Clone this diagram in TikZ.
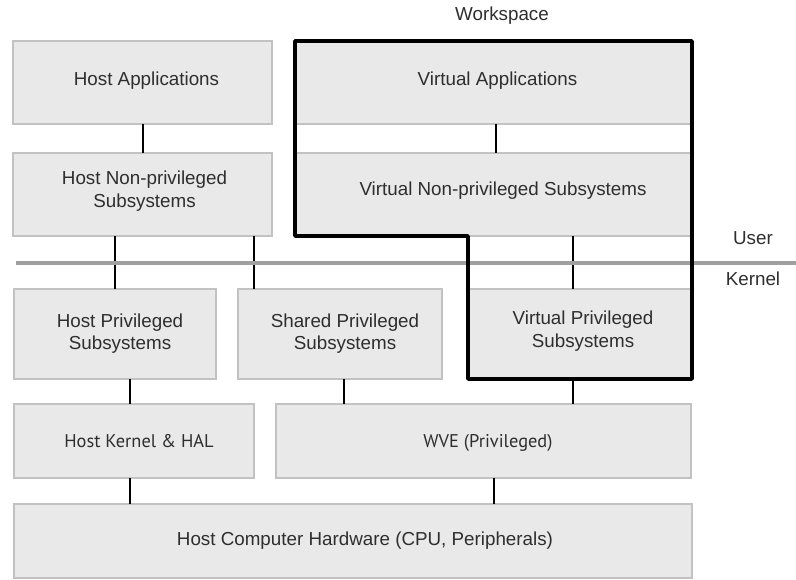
\documentclass[tikz,border=0pt]{standalone}
\usepackage{fontspec}
\setmainfont{Liberation Sans}
\newfontfamily\myr{PT Sans}
\definecolor{boxfill}{HTML}{E9E9E9}
\definecolor{boxline}{HTML}{C2C2C2}
\definecolor{txt}{HTML}{2E2E2E}
\definecolor{sepline}{HTML}{A0A0A0}
\tikzset{
  box/.style={draw=boxline, fill=boxfill, line width=1.5pt, inner sep=0pt, outer sep=0pt},
  lbl/.style={text=txt, inner sep=0pt, anchor=base, align=center, font=\fontsize{18.8}{23}\selectfont},
  lblm/.style={lbl, font=\myr\fontsize{18.4}{23}\selectfont},
  conn/.style={draw=black, line width=2pt},
  ws/.style={draw=black, line width=3.5pt, line join=round},
}
\begin{document}
\begin{tikzpicture}[x=1pt,y=-1pt]
\useasboundingbox (0,0) rectangle (796,580);
% boxes
\node[box, minimum width=259pt, minimum height=83pt] (ha) at (142.5,82.5) {};
\node[box, minimum width=259pt, minimum height=83pt] (hn) at (142.5,194.5) {};
\node[box, minimum width=397pt, minimum height=83pt] (va) at (493.5,82.5) {};
\node[box, minimum width=397pt, minimum height=83pt] (vn) at (493.5,194.5) {};
\node[box, minimum width=202pt, minimum height=90pt] (hp) at (115,334) {};
\node[box, minimum width=204pt, minimum height=90pt] (sp) at (340,334) {};
\node[box, minimum width=224pt, minimum height=90pt] (vp) at (580,334) {};
\node[box, minimum width=240pt, minimum height=74pt] (hk) at (134,441) {};
\node[box, minimum width=415pt, minimum height=74pt] (wve) at (483.5,441) {};
\node[box, minimum width=678pt, minimum height=74pt] (hch) at (353,541) {};
% texts
\node[lbl] (tha) at (146.5,86) {Host Applications};
\node[lbl] (thn) at (144.5,208) {Host Non-privileged\\Subsystems};
\node[lbl] (tva) at (497.5,86) {Virtual Applications};
\node[lbl] (tvn) at (503,196) {Virtual Non-privileged Subsystems};
\node[lbl] (thp) at (120,350) {Host Privileged\\Subsystems};
\node[lbl] (tsp) at (345,350) {Shared Privileged\\Subsystems};
\node[lbl] (tvp) at (583,348) {Virtual Privileged\\Subsystems};
\node[lblm] (thk) at (139,447) {Host Kernel \& HAL};
\node[lblm] (twve) at (488,447) {WVE (Privileged)};
\node[lbl] (thch) at (365,545) {Host Computer Hardware (CPU, Peripherals)};
\node[lbl] (tws) at (502,21) {Workspace};
\node[lbl] (tuser) at (753,245) {User};
\node[lbl] (tkern) at (753,286) {Kernel};
% connectors
\draw[conn] (ha.south) -- (hn.north);
\draw[conn] ([xshift=2.5pt]va.south) -- ([xshift=2.5pt]va.south |- vn.north);
\draw[conn] ([xshift=-27.5pt]hn.south) -- (hp.north);
\draw[conn] ([xshift=111.5pt]hn.south) -- ([xshift=111.5pt]hn.south |- sp.north);
\draw[conn] ([xshift=79.5pt]vn.south) -- ([xshift=79.5pt]vn.south |- vp.north);
\draw[conn] ([xshift=15pt]hp.south) -- ([xshift=15pt]hp.south |- hk.north);
\draw[conn] ([xshift=4pt]sp.south) -- ([xshift=4pt]sp.south |- wve.north);
\draw[conn] ([xshift=-7pt]vp.south) -- ([xshift=-7pt]vp.south |- wve.north);
\draw[conn] ([xshift=-4pt]hk.south) -- ([xshift=-4pt]hk.south |- hch.north);
\draw[conn] ([xshift=10.5pt]wve.south) -- ([xshift=10.5pt]wve.south |- hch.north);
% user/kernel separator
\coordinate (sepL) at (16,263);
\coordinate (sepR) at (796,263);
\draw[draw=sepline, line width=3.5pt] (sepL) -- (sepR);
% workspace outline
\draw[ws] (va.north west) -- (va.north east) -- (vp.south east) -- (vp.south west) -- (vp.south west |- vn.south) -- (vn.south west) -- cycle;
\end{tikzpicture}
\end{document}
